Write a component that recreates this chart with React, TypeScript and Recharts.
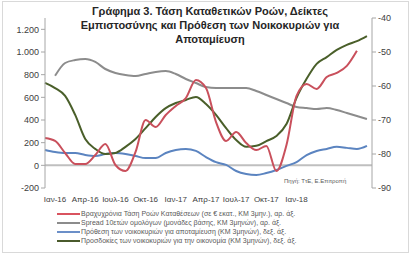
import { Line, LineChart, ReferenceLine, XAxis, YAxis } from 'recharts'

// months since Jan-16 (Jan-16 = 0)
const months = [-1, 0, 1, 2, 3, 4, 5, 6, 7, 8, 9, 10, 11, 12, 13, 14, 15, 16, 17, 18, 19, 20, 21, 22, 23, 24, 25, 26, 27, 28, 29, 30, 31]

const depositFlows = [241, 215, 109, 12, 12, 91, 188, 3, -50, 118, 400, 338, 444, 524, 594, 753, 682, 382, 215, 294, 197, 135, 171, -50, 179, 612, 718, 674, 779, 815, 877, 1010, null]
const bondSpread = [null, 790, 903, 929, 938, 912, 850, 815, 797, 788, 806, 824, 832, 806, 762, 726, 691, 682, 682, 682, 682, 656, 621, 585, 550, 515, 506, 497, 506, 488, 462, 435, 409]
const savingIntention = [-78.8, -79.4, -79.7, -79.7, -80.3, -80.6, -80.0, -79.7, -80.0, -80.6, -81.2, -81.2, -79.7, -78.8, -78.5, -79.1, -80.9, -82.4, -83.2, -85.0, -85.9, -86.2, -85.6, -84.7, -83.5, -82.4, -80.3, -79.1, -78.5, -77.9, -78.2, -78.5, -77.6]
const econExpectations = [-59.1, -60.6, -62.9, -68.5, -75.6, -78.5, -80.0, -79.7, -77.9, -75.6, -72.4, -69.1, -66.5, -65.0, -64.1, -63.2, -65.3, -68.5, -72.4, -75.9, -77.9, -77.6, -76.2, -74.7, -71.2, -63.5, -57.9, -53.5, -51.5, -49.4, -47.9, -46.8, -45.3]

const xTicks = [0, 3, 6, 9, 12, 15, 18, 21, 24]
const xLabels = ['Ιαν-16', 'Απρ-16', 'Ιουλ-16', 'Οκτ-16', 'Ιαν-17', 'Απρ-17', 'Ιουλ-17', 'Οκτ-17', 'Ιαν-18']
const leftTicks = [-200, 0, 200, 400, 600, 800, 1000, 1200]
const rightTicks = [-90, -80, -70, -60, -50, -40]

const legendItems = [
  { label: 'Βραχυχρόνια Τάση Ροών Καταθέσεων (σε € εκατ., ΚΜ 3μην.), αρ. άξ.', color: '#d9535f' },
  { label: 'Spread 10ετών ομολόγων (μονάδες βάσης, ΚΜ 3μηνών), αρ. άξ.', color: '#8c8c8c' },
  { label: 'Πρόθεση των νοικοκυριών για αποταμίευση (ΚΜ 3μηνών), δεξ. άξ.', color: '#6b8fc8' },
  { label: 'Προσδοκίες των νοικοκυριών για την οικονομία (ΚΜ 3μηνών), δεξ. άξ.', color: '#4a5a2c' },
]

const data = months.map((t, i) => ({
  t,
  flows: depositFlows[i],
  spread: bondSpread[i],
  saving: savingIntention[i],
  expect: econExpectations[i],
}))

const fmtGr = (v: number) => v.toLocaleString('de-DE')
const font = 'Liberation Sans, Arial, sans-serif'
const tickStyle = { fontSize: 9, fill: '#404040', fontFamily: font }

export default function App() {
  return (
    <div style={{ position: 'absolute', left: 0, top: 0, width: 412, height: 259, background: '#fff', fontFamily: font }}>
      <div style={{ position: 'absolute', left: 2, top: 1, width: 405, height: 250, border: '1px solid #d9d9d9' }} />
      <LineChart width={412} height={259} data={data} margin={{ top: 18, right: 0, bottom: 51, left: 0 }}>
        <XAxis
          dataKey="t"
          type="number"
          domain={[-1, 31.5]}
          ticks={xTicks}
          tickFormatter={(v: number) => xLabels[xTicks.indexOf(v)] ?? ''}
          tick={{ ...tickStyle, fontSize: 8 }}
          axisLine={false}
          tickLine={false}
          height={20}
          interval={0}
        />
        <YAxis
          yAxisId="left"
          domain={[-200, 1300]}
          ticks={leftTicks}
          tickFormatter={fmtGr}
          tick={tickStyle}
          axisLine={{ stroke: '#a6a6a6' }}
          tickLine={{ stroke: '#a6a6a6' }}
          tickSize={4}
          width={45}
          allowDataOverflow
        />
        <YAxis
          yAxisId="right"
          orientation="right"
          domain={[-90, -40]}
          ticks={rightTicks}
          tick={tickStyle}
          axisLine={{ stroke: '#a6a6a6' }}
          tickLine={{ stroke: '#a6a6a6' }}
          tickSize={4}
          width={40}
        />
        <ReferenceLine yAxisId="left" y={0} stroke="#bfbfbf" strokeWidth={2} />
        <Line yAxisId="left" dataKey="spread" type="monotone" stroke="#8c8c8c" strokeWidth={2} dot={false} isAnimationActive={false} />
        <Line yAxisId="right" dataKey="saving" type="monotone" stroke="#5b84c0" strokeWidth={2} dot={false} isAnimationActive={false} />
        <Line yAxisId="right" dataKey="expect" type="monotone" stroke="#4a5f2a" strokeWidth={2} dot={false} isAnimationActive={false} />
        <Line yAxisId="left" dataKey="flows" type="monotone" stroke="#c9505c" strokeWidth={2} dot={false} isAnimationActive={false} />
      </LineChart>
      <div style={{ position: 'absolute', left: 0, top: 4, width: 420, textAlign: 'center', fontWeight: 'bold', fontSize: 11, lineHeight: '14px', color: '#262626' }}>
        Γράφημα 3. Τάση Καταθετικών Ροών, Δείκτες<br />
        Εμπιστοσύνης και Πρόθεση των Νοικοκυριών για<br />
        Αποταμίευση
      </div>
      <div style={{ position: 'absolute', left: 284, top: 178, fontSize: 6, color: '#595959' }}>Πηγή: ΤτΕ, Ε.Επιτροπή</div>
      <div style={{ position: 'absolute', left: 57, top: 209 }}>
        {legendItems.map((it) => (
          <div key={it.label} style={{ display: 'flex', alignItems: 'center', height: 9, fontSize: 7, color: '#595959', whiteSpace: 'nowrap' }}>
            <span style={{ display: 'inline-block', width: 23, height: 2, background: it.color, marginRight: 1 }} />
            {it.label}
          </div>
        ))}
      </div>
    </div>
  )
}
